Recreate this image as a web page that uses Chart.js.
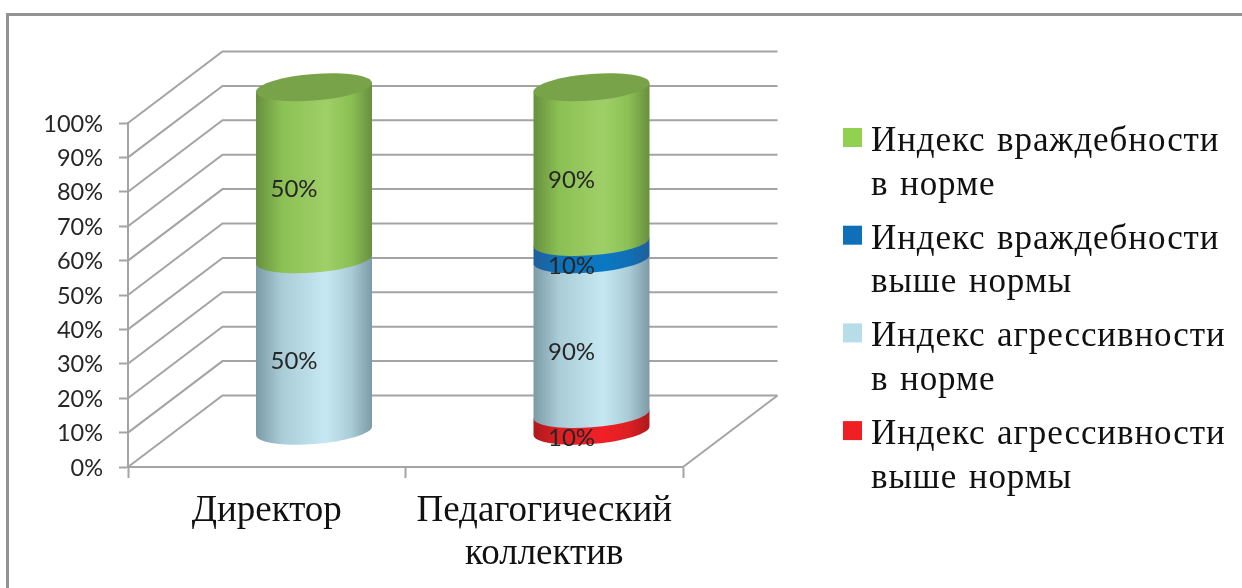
<!DOCTYPE html>
<html lang="ru">
<head>
<meta charset="utf-8">
<title>Индексы враждебности и агрессивности</title>
<script src="https://cdn.jsdelivr.net/npm/chart.js@4"></script>
<style>
    html, body { margin: 0; padding: 0; background: #fff; }
    #wrap { position: relative; width: 1242px; height: 588px; overflow: hidden; }
    #frame { position: absolute; left: 6px; top: 13px; width: 1300px; height: 700px;
             border-left: 3px solid #939393; border-top: 3px solid #939393; }
    canvas { position: absolute; left: 0; top: 0; }
</style>
</head>
<body>
<div id="wrap">
    <div id="frame"></div>
    <canvas id="chart" width="1242" height="588"></canvas>
</div>
<script>
const categories = [['Директор'], ['Педагогический', 'коллектив']];

// Stacked from the floor up; the legend lists them top down.
const aggressionHigh = [0, 10];
const aggressionNorm = [50, 90];
const hostilityHigh = [0, 10];
const hostilityNorm = [50, 90];

const aggressionHighName = ['Индекс агрессивности', 'выше нормы'];
const aggressionNormName = ['Индекс агрессивности', 'в норме'];
const hostilityHighName = ['Индекс враждебности', 'выше нормы'];
const hostilityNormName = ['Индекс враждебности', 'в норме'];

const percentTicks = [0, 10, 20, 30, 40, 50, 60, 70, 80, 90, 100];

const SERIF = '"Liberation Serif", "Times New Roman", serif';
const SANS = 'Lato, Calibri, sans-serif';
const GRID = '#a4a4a4';

// Depth of the 3D box, in pixels.
const DEPTH_X = 94.5;
const DEPTH_Y = 71.5;
// Cylinder caps are sheared ellipses.
const CAP_RY = 13.3;
const CAP_SHEAR = -4.3 / 58;

const seriesList = [
    { name: aggressionHighName, values: aggressionHigh, swatch: '#ee2024', edge: '#ad191d', near: '#dc2024', mid: '#f02026' },
    { name: aggressionNormName, values: aggressionNorm, swatch: '#b7dde8', edge: '#7c9ba6', near: '#a9ccd7', mid: '#c5e8f2' },
    { name: hostilityHighName, values: hostilityHigh, swatch: '#0f6fb9', edge: '#1f5f9a', near: '#1070b6', mid: '#0a78c4' },
    { name: hostilityNormName, values: hostilityNorm, swatch: '#92d050', edge: '#688f3e', near: '#8bc054', mid: '#a0cf68', cap: '#79a349' }
];

// Share of each column's total, as in a 100% stacked chart.
const totals = categories.map((c, i) => seriesList.reduce((sum, s) => sum + s.values[i], 0));

function bodyGradient(ctx, x, width, series) {
    const g = ctx.createLinearGradient(x - width / 2, 0, x + width / 2, 0);
    g.addColorStop(0, series.edge);
    g.addColorStop(0.22, series.near);
    g.addColorStop(0.6, series.mid);
    g.addColorStop(0.82, series.near);
    g.addColorStop(1, series.edge);
    return g;
}

function drawSegment(ctx, x, top, bottom, width, series, withCap) {
    const rx = width / 2;
    const shearY = CAP_SHEAR * rx;

    ctx.save();
    ctx.beginPath();
    ctx.moveTo(x - rx, top - shearY);
    ctx.lineTo(x - rx, bottom - shearY);
    ctx.save();
    ctx.transform(1, CAP_SHEAR, 0, 1, x, bottom);
    ctx.ellipse(0, 0, rx, CAP_RY, 0, Math.PI, 0, true);
    ctx.restore();
    ctx.lineTo(x + rx, top + shearY);
    ctx.closePath();
    ctx.fillStyle = bodyGradient(ctx, x, width, series);
    ctx.fill();

    if (withCap) {
        ctx.beginPath();
        ctx.save();
        ctx.transform(1, CAP_SHEAR, 0, 1, x, top);
        ctx.ellipse(0, 0, rx, CAP_RY, 0, 0, Math.PI * 2);
        ctx.restore();
        ctx.fillStyle = series.cap;
        ctx.fill();
    }
    ctx.restore();
}

// Floor, back wall and side wall of the box.
const boxPlugin = {
    id: 'box',
    beforeDatasetsDraw(chart) {
        const { ctx, chartArea, scales: { y } } = chart;
        ctx.save();
        ctx.strokeStyle = GRID;
        ctx.lineWidth = 2;
        percentTicks.forEach(tick => {
            const py = y.getPixelForValue(tick);
            ctx.beginPath();
            ctx.moveTo(chartArea.left, py);
            ctx.lineTo(chartArea.left + DEPTH_X, py - DEPTH_Y);
            ctx.lineTo(chartArea.right + DEPTH_X, py - DEPTH_Y);
            ctx.stroke();
        });
        const floor = y.getPixelForValue(0);
        ctx.beginPath();
        ctx.moveTo(chartArea.right, floor);
        ctx.lineTo(chartArea.right + DEPTH_X, floor - DEPTH_Y);
        ctx.stroke();
        ctx.restore();
    }
};

// Native bars are skipped; each one becomes a cylinder standing mid-depth.
const cylinderPlugin = {
    id: 'cylinders',
    beforeDatasetDraw() {
        return false;
    },
    afterDatasetsDraw(chart) {
        const { ctx } = chart;
        const labels = [];
        seriesList.forEach((series, d) => {
            chart.getDatasetMeta(d).data.forEach((bar, i) => {
                if (!series.values[i]) return;
                const x = bar.x + DEPTH_X / 2;
                const top = bar.y - DEPTH_Y / 2;
                const bottom = bar.base - DEPTH_Y / 2;
                const isTop = d === seriesList.length - 1;
                drawSegment(ctx, x, top, bottom, bar.width, series, isTop);
                labels.push({ text: series.values[i] + '%', x: x - 20, y: (top + bottom) / 2 + 16 });
            });
        });
        ctx.save();
        ctx.font = '24px ' + SANS;
        ctx.fillStyle = '#262626';
        ctx.textAlign = 'center';
        ctx.textBaseline = 'middle';
        labels.forEach(l => ctx.fillText(l.text, l.x, l.y));
        ctx.restore();
    }
};

// Legend with two-line entries, top of the stack first.
const legendPlugin = {
    id: 'sideLegend',
    afterDraw(chart) {
        const { ctx } = chart;
        ctx.save();
        ctx.font = '35px ' + SERIF;
        ctx.letterSpacing = '0.9px';
        ctx.wordSpacing = '2px';
        ctx.textBaseline = 'alphabetic';
        [...seriesList].reverse().forEach((series, row) => {
            const base = 151 + row * 97.7;
            ctx.fillStyle = series.swatch;
            ctx.fillRect(843, base - 23, 19, 19);
            ctx.fillStyle = '#111';
            ctx.fillText(series.name[0], 871, base);
            ctx.fillText(series.name[1], 871, base + 43.5);
        });
        ctx.restore();
    }
};

new Chart(document.getElementById('chart').getContext('2d'), {
    type: 'bar',
    data: {
        labels: categories,
        datasets: seriesList.map(series => ({
            label: series.name.join(' '),
            data: series.values.map((v, i) => v / totals[i] * 100),
            backgroundColor: series.swatch
        }))
    },
    options: {
        responsive: false,
        animation: false,
        barPercentage: 0.418,
        categoryPercentage: 1,
        layout: { padding: { top: 123, right: 559, left: 0, bottom: 0 } },
        plugins: { legend: { display: false }, tooltip: { enabled: false } },
        scales: {
            x: {
                stacked: true,
                afterFit: scale => { scale.height = 121; },
                border: { color: GRID, width: 2 },
                grid: { drawOnChartArea: false, tickLength: 11, tickWidth: 2, tickColor: GRID },
                ticks: {
                    maxRotation: 0,
                    padding: 12,
                    color: '#111',
                    font: { family: SERIF, size: 37, lineHeight: 1.15 }
                }
            },
            y: {
                stacked: true,
                min: 0,
                max: 100,
                afterFit: scale => { scale.width = 128; },
                afterBuildTicks: scale => { scale.ticks = percentTicks.map(value => ({ value })); },
                border: { color: GRID, width: 2 },
                grid: { drawOnChartArea: false, tickLength: 9, tickWidth: 2, tickColor: GRID },
                ticks: {
                    padding: 16,
                    labelOffset: 1,
                    color: '#262626',
                    font: { family: SANS, size: 23.5 },
                    callback: value => value + '%'
                }
            }
        }
    },
    plugins: [boxPlugin, cylinderPlugin, legendPlugin]
});
</script>
</body>
</html>
